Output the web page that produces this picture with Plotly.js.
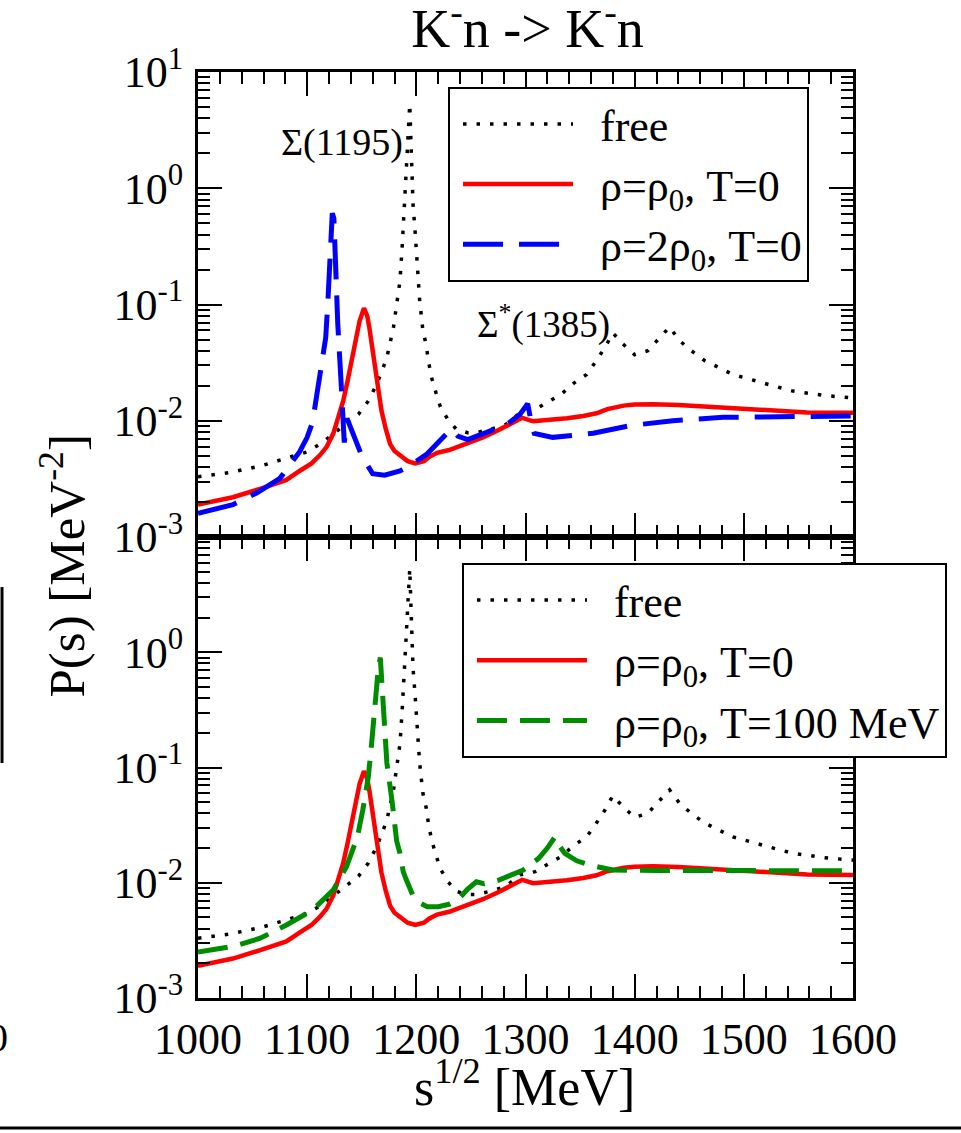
<!DOCTYPE html>
<html>
<head>
<meta charset="utf-8">
<script src="https://cdn.plot.ly/plotly-3.0.1.min.js"></script>
<style>html,body{margin:0;padding:0;background:#fff;}#chart{width:961px;height:1133px;}</style>
</head>
<body>
<div id="chart"></div>
<script>
// ---- data ----
const chartTitle = 'K<sup>-</sup>n -> K<sup>-</sup>n';
const xTitle = 's<sup>1/2</sup> [MeV]';
const yTitle = 'P(s) [MeV<sup>-2</sup>]';

const freeName = 'free';
const rho0Name = 'ρ=ρ<sub>0</sub>, T=0';
const rho2Name = 'ρ=2ρ<sub>0</sub>, T=0';
const tempName = 'ρ=ρ<sub>0</sub>, T=100 MeV';

const sigmaLabel = 'Σ(1195)';
const sigmaStarLabel = 'Σ<sup>*</sup>(1385)';

const yTickVals = [0.001, 0.01, 0.1, 1, 10];
const yTickTextTop = ['10<sup>-3</sup>', '10<sup>-2</sup>', '10<sup>-1</sup>', '10<sup>0</sup>', '10<sup>1</sup>'];
const yTickTextBottom = ['10<sup>-3</sup>', '10<sup>-2</sup>', '10<sup>-1</sup>', '10<sup>0</sup>', ''];

// free
const freeX = [1000,1030,1058,1087,1100,1113,1130,1140,1147,1156,1163,1168,1173,1179,1183,1185,1187,1188.5,1190.5,1192,1193.2,1194,1195,1196,1197,1199,1200.6,1203,1206,1209,1211,1214,1218,1222,1229,1237,1247,1255,1269,1282,1295,1309,1321,1333,1344,1356,1364,1373,1380,1389,1400,1412,1423,1432,1441,1452,1464,1476,1490,1504,1518,1531,1545,1561,1574,1600];
const freeY = [0.0033,0.0036,0.0041,0.0049,0.0054,0.0064,0.0085,0.0100,0.0114,0.0148,0.020,0.026,0.035,0.063,0.12,0.16,0.31,0.61,1.06,2.2,4.3,5.3,2.6,1.1,0.72,0.41,0.22,0.11,0.06,0.045,0.033,0.0235,0.0174,0.0132,0.0102,0.0084,0.0079,0.0079,0.0085,0.0093,0.0117,0.0125,0.0146,0.017,0.021,0.025,0.032,0.043,0.057,0.046,0.037,0.040,0.052,0.064,0.049,0.040,0.033,0.029,0.025,0.023,0.021,0.0195,0.018,0.017,0.0165,0.0157];

// rho = rho0, T = 0
const rho0X = [1000,1032,1057,1081,1093,1104,1112,1118,1124,1128,1133,1137,1142,1146,1148,1152,1155,1157,1160,1162,1165,1168,1172,1176,1180,1185,1192,1199,1207,1212,1219,1230,1246,1261,1274,1288,1297,1307,1320,1338,1353,1365,1375,1390,1400,1417,1440,1466,1490,1512,1540,1558,1600];
const rho0Y = [0.0019,0.0022,0.0026,0.0031,0.0037,0.0043,0.0051,0.0060,0.0078,0.0105,0.0148,0.022,0.038,0.055,0.072,0.093,0.080,0.063,0.040,0.029,0.019,0.0123,0.0085,0.0063,0.0055,0.0050,0.0045,0.0043,0.0045,0.0049,0.0053,0.0056,0.0063,0.0072,0.0082,0.0096,0.0106,0.0099,0.0101,0.0105,0.0110,0.0116,0.0126,0.0135,0.0138,0.0139,0.0137,0.0133,0.0129,0.0125,0.0120,0.0118,0.0117];

// rho = 2 rho0, T = 0
const rho2X = [1000,1032,1054,1075,1093,1100,1105,1108,1112,1115,1117,1119,1120,1122,1123,1124.5,1126,1128,1131,1133,1134,1136.5,1144,1150,1160,1171,1185,1194,1210,1222,1228,1232,1238,1247,1265,1283,1295,1302,1305,1308,1325,1340,1362,1396,1435,1481,1527,1563,1600];
const rho2Y = [0.0016,0.0019,0.0024,0.0032,0.0054,0.0072,0.0098,0.0150,0.025,0.036,0.052,0.107,0.17,0.38,0.61,0.55,0.19,0.069,0.022,0.0082,0.0065,0.0105,0.0071,0.0050,0.0035,0.0034,0.0037,0.0041,0.0052,0.0068,0.0078,0.0085,0.0074,0.0069,0.0080,0.0093,0.0114,0.0140,0.0100,0.0078,0.0072,0.0074,0.0078,0.0091,0.0100,0.0107,0.0108,0.0108,0.0110];

// rho = rho0, T = 100 MeV
const tempX = [1000,1032,1057,1081,1105,1124,1136,1146,1151,1156,1159,1162,1165,1167,1170,1173,1178,1182,1185,1188,1191,1197,1203,1210,1220,1230,1238,1247,1255,1262,1275,1290,1298,1312,1320,1327,1331,1336,1347,1359,1370,1380,1420,1500,1600];
const tempY = [0.0025,0.0028,0.0033,0.0043,0.0058,0.0087,0.0138,0.025,0.043,0.083,0.16,0.36,0.70,0.90,0.27,0.11,0.049,0.023,0.018,0.0125,0.0105,0.0077,0.0067,0.0062,0.0062,0.0065,0.0071,0.0088,0.0102,0.0098,0.0105,0.0120,0.0129,0.0163,0.020,0.025,0.021,0.018,0.0155,0.0142,0.0134,0.0129,0.0128,0.0128,0.0127];

// ---- styles ----
const serif = 'Liberation Serif, Times New Roman, serif';
const legendPad = '\u2002';
const freeLine = {color: 'black', width: 3.5, dash: '3.5px,10px'};
const rho0Line = {color: '#ff0000', width: 4.5};
const rho2Line = {color: '#0000ff', width: 5, dash: '40px,16px'};
const tempLine = {color: '#008c00', width: 5, dash: '30px,13px'};

const traces = [
  {x: freeX, y: freeY, name: legendPad + freeName, mode: 'lines', line: freeLine, xaxis: 'x', yaxis: 'y', legend: 'legend'},
  {x: rho0X, y: rho0Y, name: legendPad + rho0Name, mode: 'lines', line: rho0Line, xaxis: 'x', yaxis: 'y', legend: 'legend'},
  {x: rho2X, y: rho2Y, name: legendPad + rho2Name, mode: 'lines', line: rho2Line, xaxis: 'x', yaxis: 'y', legend: 'legend'},
  {x: freeX, y: freeY, name: legendPad + freeName, mode: 'lines', line: freeLine, xaxis: 'x2', yaxis: 'y2', legend: 'legend2'},
  {x: rho0X, y: rho0Y, name: legendPad + rho0Name, mode: 'lines', line: rho0Line, xaxis: 'x2', yaxis: 'y2', legend: 'legend2'},
  {x: tempX, y: tempY, name: legendPad + tempName, mode: 'lines', line: tempLine, xaxis: 'x2', yaxis: 'y2', legend: 'legend2'}
];

const tickFont = {family: serif, size: 44, color: 'black'};
function xAxis(anchor, labels) {
  return {
    anchor: anchor, domain: [0, 1], range: [1000, 1600],
    showline: true, linewidth: 3, linecolor: 'black', mirror: 'allticks',
    ticks: 'inside', ticklen: 24, tickwidth: 2, tickcolor: 'black',
    tickmode: 'linear', tick0: 1000, dtick: 100,
    minor: {ticks: 'inside', ticklen: 12, tickwidth: 2, tickcolor: 'black', dtick: 20, showgrid: false},
    showticklabels: labels, tickfont: tickFont,
    showgrid: false, zeroline: false, fixedrange: true
  };
}
function yAxis(anchor, domain, text) {
  return {
    anchor: anchor, domain: domain, type: 'log', range: [-3, 1],
    showline: true, linewidth: 3, linecolor: 'black', mirror: 'allticks',
    ticks: 'inside', ticklen: 24, tickwidth: 2, tickcolor: 'black',
    tickmode: 'array', tickvals: yTickVals, ticktext: text,
    minor: {ticks: 'inside', ticklen: 12, tickwidth: 2, tickcolor: 'black', dtick: 'D1', showgrid: false},
    tickfont: tickFont, ticklabelstandoff: 3,
    showgrid: false, zeroline: false, fixedrange: true
  };
}

const legendBase = {
  xanchor: 'left', yanchor: 'top',
  bgcolor: 'white', bordercolor: 'black', borderwidth: 2,
  font: {family: serif, size: 44, color: 'black'},
  itemwidth: 110, indentation: 8, tracegroupgap: 0
};

const layout = {
  width: 961, height: 1133,
  margin: {l: 198, r: 108, t: 72, b: 135, autoexpand: false},
  paper_bgcolor: 'white', plot_bgcolor: 'white',
  title: {text: chartTitle, font: {family: serif, size: 54, color: 'black'}, xref: 'paper', x: 0.503, xanchor: 'center', yref: 'container', y: 0.975, yanchor: 'middle'},
  xaxis: xAxis('y', false),
  yaxis: yAxis('x', [0.4978, 1], yTickTextTop),
  xaxis2: xAxis('y2', true),
  yaxis2: yAxis('x2', [0, 0.4978], yTickTextBottom),
  legend: Object.assign({}, legendBase, {x: 0.3817, y: 0.984}),
  legend2: Object.assign({}, legendBase, {x: 0.403, y: 0.4698}),
  showlegend: true,
  annotations: [
    {text: sigmaLabel, xref: 'paper', yref: 'paper', x: 0.2206, y: 0.9244, showarrow: false, xanchor: 'center', yanchor: 'middle', font: {family: serif, size: 38, color: 'black'}},
    {text: sigmaStarLabel, xref: 'paper', yref: 'paper', x: 0.528, y: 0.73, showarrow: false, xanchor: 'center', yanchor: 'middle', font: {family: serif, size: 37, color: 'black'}},
    {text: xTitle, xref: 'paper', yref: 'paper', x: 0.4992, y: -0.0925, showarrow: false, xanchor: 'center', yanchor: 'middle', font: {family: serif, size: 52, color: 'black'}},
    {text: yTitle, xref: 'paper', yref: 'paper', x: -0.206, y: 0.466, showarrow: false, textangle: -90, xanchor: 'center', yanchor: 'middle', font: {family: serif, size: 51, color: 'black'}},
    {text: '0', xref: 'paper', yref: 'paper', x: -0.3053, y: -0.0424, showarrow: false, xanchor: 'center', yanchor: 'middle', font: {family: serif, size: 40, color: 'black'}}
  ],
  shapes: [
    {type: 'line', xref: 'paper', yref: 'paper', x0: -0.2992, x1: -0.2992, y0: 0.4438, y1: 0.2538, line: {color: 'black', width: 3}},
    {type: 'line', xref: 'paper', yref: 'paper', x0: -0.3023, x1: 1.1649, y0: -0.1404, y1: -0.1404, line: {color: 'black', width: 3}}
  ]
};

Plotly.newPlot('chart', traces, layout, {staticPlot: true, displayModeBar: false});
</script>
</body>
</html>
